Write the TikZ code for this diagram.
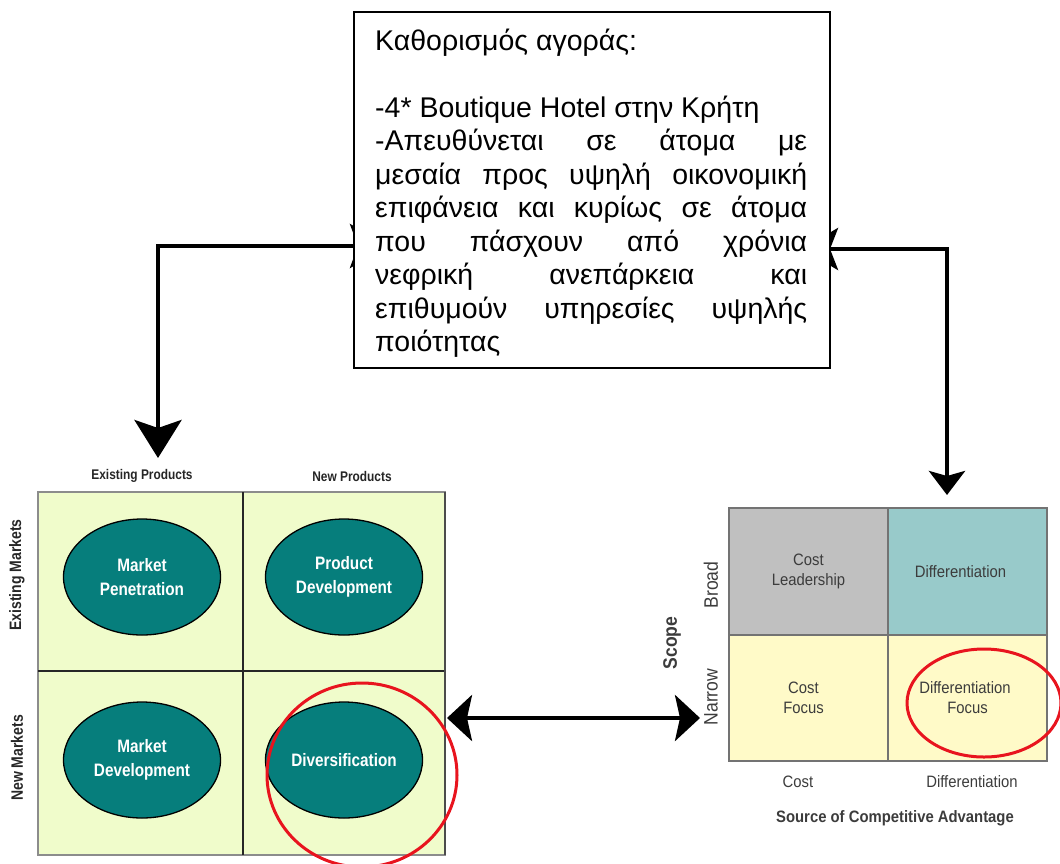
\documentclass[tikz,border=0pt]{standalone}
\usepackage{fontspec}
\setmainfont{Liberation Sans}
\newfontfamily\condsans[FakeStretch=0.85]{Liberation Sans}
\newfontfamily\semisans[FakeStretch=0.9]{Liberation Sans}
\usetikzlibrary{arrows.meta,shapes.geometric}
\definecolor{lgreen}{RGB}{240,252,203}
\definecolor{oteal}{RGB}{6,126,124}
\definecolor{cgray}{RGB}{192,192,192}
\definecolor{cteal}{RGB}{152,202,202}
\definecolor{cyellow}{RGB}{255,250,200}
\definecolor{ctext}{RGB}{60,60,60}
\definecolor{ringred}{RGB}{232,20,30}
\tikzset{
  conn/.style={line width=4.5pt, draw=black},
  oval/.style={ellipse, draw=black, line width=1.3pt, fill=oteal, minimum width=157pt, minimum height=116pt, inner sep=0pt, text=white, align=center, font=\condsans\bfseries\fontsize{18}{24}\selectfont},
  axlab/.style={font=\condsans\bfseries\fontsize{14}{16}\selectfont, text=black!85},
  vaxlab/.style={font=\condsans\bfseries\fontsize{16.5}{18}\selectfont, text=black!85},
  pcell/.style={draw=black!55, line width=1.3pt, minimum width=159pt, inner sep=0pt, align=center, text=ctext, font=\semisans\fontsize{16.5}{20}\selectfont},
  plab/.style={text=ctext, font=\semisans\fontsize{16.5}{20}\selectfont},
  vplab/.style={text=ctext, font=\semisans\fontsize{19.5}{22}\selectfont},
  pbold/.style={text=ctext, font=\semisans\bfseries\fontsize{16.5}{18}\selectfont},
  vpbold/.style={text=ctext, font=\semisans\bfseries\fontsize{19.5}{22}\selectfont},
  ring/.style={draw=ringred, line width=3pt}
}
\begin{document}
\begin{tikzpicture}[x=1pt,y=-1pt]
\useasboundingbox (0,0) rectangle (1060,863);
\clip (0,0) rectangle (1060,863);

% connectors from the market box (drawn first, box covers their hidden ends)
\coordinate (la) at (388,246);
\coordinate (lt) at (158,458);
\coordinate (ra) at (802,249);
\coordinate (rt) at (947,495);
\draw[conn, {Stealth[length=38pt,width=44pt,inset=8pt]}-{Stealth[length=38pt,width=47pt,inset=8pt]}] (la) -| (lt);
\draw[conn, {Stealth[length=36pt,width=42pt,inset=8pt]}-{Stealth[length=24pt,width=36pt,inset=5pt]}] (ra) -| (rt);

% market definition box
\node[draw=black, fill=white, line width=1.3pt, minimum width=476pt, minimum height=356pt, inner sep=0pt] (mkt) at (592,190) {};
\node[anchor=base west, inner sep=0pt] (mkttext) at (375,50) {\parbox[t]{432pt}{\fontsize{28.5}{33.5}\selectfont
Καθορισμός αγοράς:\\
\mbox{}\\
-4* Boutique Hotel στην Κρήτη\\
\makebox[\linewidth][s]{-Απευθύνεται σε άτομα με}\\
\makebox[\linewidth][s]{μεσαία προς υψηλή οικονομική}\\
\makebox[\linewidth][s]{επιφάνεια και κυρίως σε άτομα}\\
\makebox[\linewidth][s]{που πάσχουν από χρόνια}\\
\makebox[\linewidth][s]{νεφρική ανεπάρκεια και}\\
\makebox[\linewidth][s]{επιθυμούν υπηρεσίες υψηλής}\\
ποιότητας}};

% Ansoff matrix
\node[draw=black!45, fill=lgreen, line width=1.3pt, minimum width=407pt, minimum height=363pt, inner sep=0pt] (ansoff) at (241.5,673.5) {};
\draw[line width=1.4pt, draw=black!85] (243,492) -- (243,855);
\draw[line width=1.4pt, draw=black!85] (38,671) -- (445,671);
\draw[line width=1.4pt, draw=black!70] (445,492) -- (445,855);
\node[axlab] (ep) at (142,476) {Existing Products};
\node[axlab] (np) at (352,476) {New Products};
\node[vaxlab, rotate=90] (em) at (17,575) {Existing Markets};
\node[vaxlab, rotate=90] (nm) at (17,758) {New Markets};
\node[oval] (mp) at (142,577) {Market\\Penetration};
\node[oval] (pd) at (344,577) {Product\\Development};
\node[oval] (md) at (142,760) {Market\\Development};
\node[oval] (dv) at (344,760) {Diversification};
\draw[ring] (362,775) ellipse [x radius=95, y radius=92];

% Porter matrix
\node[pcell, fill=cgray, minimum height=127pt] (cl) at (808.5,571.5) {Cost\\Leadership};
\node[pcell, fill=cteal, minimum height=127pt] (df) at (967.5,571.5) {\hspace*{-14pt}Differentiation};
\node[pcell, fill=cyellow, minimum height=126pt] (cf) at (808.5,698) {\hspace*{-10pt}Cost\\\hspace*{-10pt}Focus};
\node[pcell, fill=cyellow, minimum height=126pt] (dff) at (967.5,698) {\hspace*{-5pt}Differentiation\\Focus};
\node[vplab, rotate=90] (broad) at (711,585) {Broad};
\node[vplab, rotate=90] (narrow) at (711,697) {Narrow};
\node[vpbold, rotate=90] (scope) at (672,643) {Scope};
\node[plab] (xcost) at (798,782) {Cost};
\node[plab] (xdiff) at (972,782) {Differentiation};
\node[pbold] (src) at (895,818) {Source of Competitive Advantage};
\draw[ring] (984,703) ellipse [x radius=77, y radius=54];

% link between the two matrices
\coordinate (ml) at (447,718);
\coordinate (mr) at (700,718);
\draw[conn, {Stealth[length=25pt,width=46pt,inset=5pt]}-{Stealth[length=25pt,width=46pt,inset=5pt]}] (ml) -- (mr);
\end{tikzpicture}
\end{document}
